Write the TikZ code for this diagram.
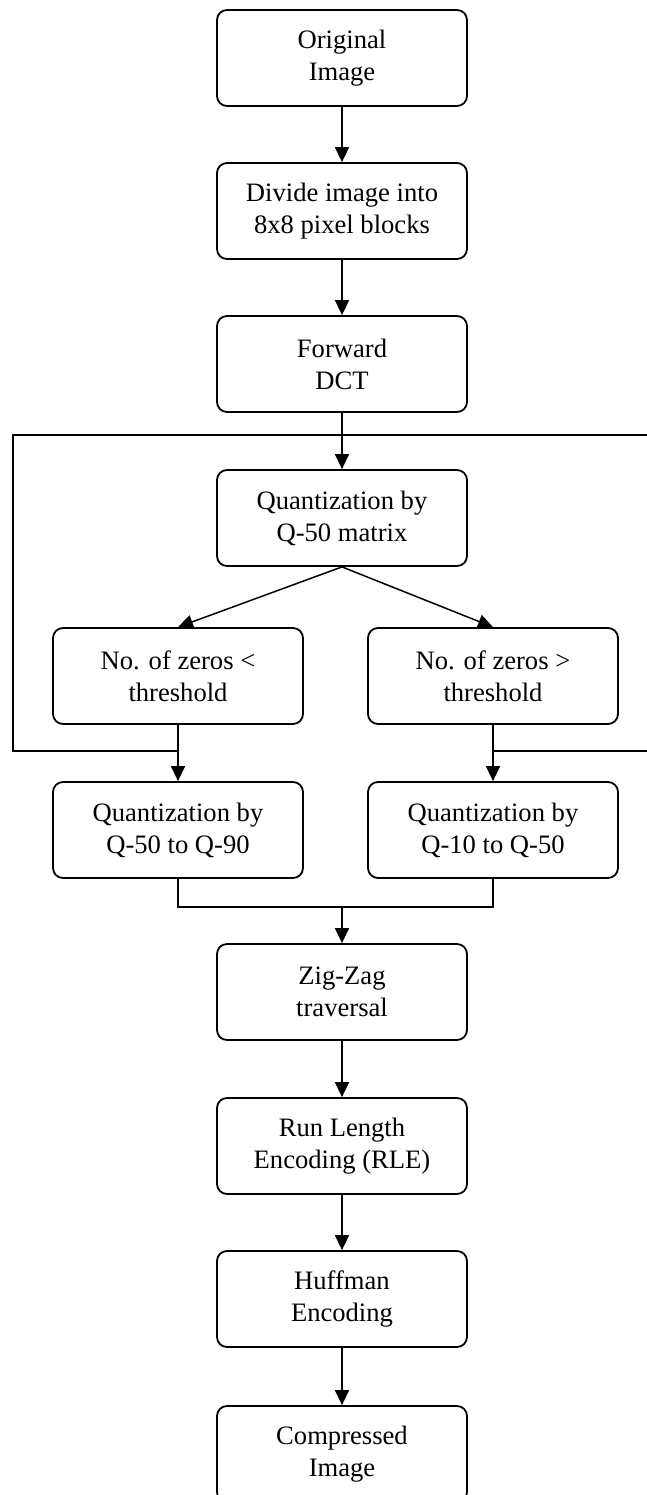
\documentclass[tikz,border=0pt]{standalone}
\usepackage{fontspec}
\setmainfont{Liberation Serif}
\usetikzlibrary{arrows.meta}
\begin{document}
\begin{tikzpicture}[x=0.5pt,y=-0.5pt,
        stage/.style={draw, line width=0.9pt, rounded corners=5pt,
            minimum width=125pt, minimum height=48pt, inner sep=0pt,
            align=center, font=\fontsize{13.3}{16}\selectfont},
        flow/.style={line width=0.75pt, -{Triangle[width=7pt,length=7.5pt]}},
        wire/.style={line width=0.9pt}]
            \useasboundingbox (0,0) rectangle (647,1495);

            \node[stage] (orig)  at (342,58)   {Original\\Image};
            \node[stage] (blk)   at (342,211)  {Divide image into\\8x8 pixel blocks};
            \node[stage] (dct)   at (342,364)  {Forward\\DCT};
            \node[stage] (q50)   at (342,518)  {Quantization by\\Q-50 matrix};
            \node[stage] (less)  at (178,676)  {No. of zeros <\\threshold};
            \node[stage] (more)  at (493,676)  {No. of zeros >\\threshold};
            \node[stage] (q90)   at (178,830)  {Quantization by\\Q-50 to Q-90};
            \node[stage] (q10)   at (493,830)  {Quantization by\\Q-10 to Q-50};
            \node[stage] (zig)   at (342,992)  {Zig-Zag\\traversal};
            \node[stage] (rle)   at (342,1146) {Run Length\\Encoding (RLE)};
            \node[stage] (huff)  at (342,1299) {Huffman\\Encoding};
            \node[stage] (comp)  at (342,1454) {Compressed\\Image};

            % outer frame, cut at the right edge
            \coordinate (TL) at (13,435);
            \coordinate (TR) at (660,435);
            \coordinate (BL) at (13,751);
            \coordinate (BLend) at (less.south |- BL);
            \coordinate (BRend) at (more.south |- BL);
            \coordinate (BR) at (660,751);
            \draw[wire] (TR) -- (TL) -- (BL) -- (BLend);
            \draw[wire] (BRend) -- (BR);

            \draw[flow] (orig) -- (blk);
            \draw[flow] (blk) -- (dct);
            \draw[flow] (dct) -- (q50);
            \draw[flow] (q50.south) -- (less.north);
            \draw[flow] (q50.south) -- (more.north);
            \draw[flow] (less) -- (q90);
            \draw[flow] (more) -- (q10);

            % merge
            \coordinate (M) at (342,907);
            \draw[wire] (q90.south) |- (M) -| (q10.south);
            \draw[flow] (M) -- (zig);

            \draw[flow] (zig) -- (rle);
            \draw[flow] (rle) -- (huff);
            \draw[flow] (huff) -- (comp);
        \end{tikzpicture}
\end{document}
